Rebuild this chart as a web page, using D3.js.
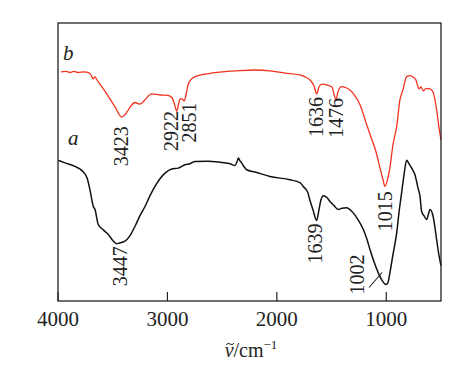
<!DOCTYPE html>
<html>
<head>
<meta charset="utf-8">
<script src="https://cdn.jsdelivr.net/npm/d3@7"></script>
<style>
  body { margin: 0; background: #fff; }
  svg text { font-family: "Liberation Serif", "Times New Roman", serif; fill: #222; }
</style>
</head>
<body>
<div id="chart"></div>
<script>
// wavenumbers (cm-1) and transmittance (arb. %)
var wnB = [3973, 3927, 3890, 3854, 3817, 3762, 3726, 3698, 3680, 3662, 3644, 3598, 3543, 3479, 3418, 3369, 3333, 3296, 3251, 3205, 3144, 3068, 2995, 2958, 2931, 2915, 2899, 2885, 2867, 2846, 2830, 2809, 2748, 2611, 2501, 2337, 2200, 2063, 1926, 1789, 1743, 1697, 1661, 1636, 1615, 1588, 1533, 1496, 1474, 1460, 1442, 1408, 1368, 1332, 1286, 1240, 1179, 1131, 1094, 1058, 1030, 1012, 985, 967, 939, 905, 875, 848, 814, 784, 756, 729, 701, 683, 662, 637, 601, 573, 540, 518, 500];
var tB = [82.4, 82.6, 82.2, 82.6, 82.2, 82.4, 82.2, 81.3, 79.9, 80.6, 79.5, 77.0, 73.8, 69.8, 66.2, 68.0, 70.2, 71.4, 70.8, 72.4, 74.5, 74.1, 74.0, 73.1, 70.2, 68.2, 70.6, 72.7, 72.7, 72.0, 74.1, 78.1, 80.7, 81.9, 82.4, 82.9, 83.1, 82.8, 82.0, 81.3, 80.6, 79.5, 77.4, 74.5, 77.0, 78.0, 77.6, 77.0, 73.8, 72.4, 75.2, 77.1, 76.7, 75.9, 73.8, 70.6, 63.4, 58.0, 53.7, 47.9, 43.6, 41.2, 44.3, 47.9, 56.2, 62.8, 72.4, 75.9, 80.7, 81.1, 80.6, 79.5, 76.3, 77.0, 75.6, 76.5, 76.3, 75.2, 68.8, 62.3, 58.0];

var wnA = [3997, 3936, 3845, 3781, 3735, 3708, 3677, 3662, 3632, 3589, 3540, 3497, 3464, 3443, 3388, 3342, 3296, 3251, 3205, 3159, 3114, 3068, 3022, 2961, 2901, 2839, 2794, 2748, 2627, 2504, 2428, 2383, 2364, 2352, 2337, 2321, 2300, 2276, 2200, 2063, 1880, 1789, 1759, 1717, 1699, 1671, 1636, 1615, 1597, 1576, 1542, 1515, 1478, 1439, 1405, 1362, 1332, 1302, 1259, 1210, 1176, 1149, 1113, 1073, 1039, 1003, 985, 967, 939, 905, 884, 860, 838, 814, 793, 768, 738, 711, 692, 677, 656, 631, 614, 601, 576, 555, 540, 518, 500];
var tA = [50.6, 49.7, 48.4, 46.9, 44.3, 40.0, 34.0, 32.9, 27.5, 25.7, 23.9, 21.7, 20.6, 20.8, 21.5, 23.5, 26.9, 30.7, 34.0, 37.9, 41.2, 44.0, 46.0, 47.5, 47.8, 49.0, 49.4, 50.2, 50.3, 49.8, 49.4, 48.7, 50.1, 51.4, 50.4, 49.6, 48.3, 47.2, 46.4, 44.8, 43.6, 42.6, 41.2, 39.0, 36.4, 32.9, 29.0, 32.9, 36.4, 37.9, 37.2, 35.8, 34.3, 32.9, 33.4, 33.5, 32.9, 31.7, 29.3, 25.7, 22.1, 18.5, 14.2, 10.1, 7.4, 5.9, 6.6, 10.1, 16.7, 24.5, 31.8, 38.9, 45.4, 50.6, 49.4, 47.8, 45.4, 40.8, 37.6, 32.2, 30.7, 29.3, 31.4, 32.9, 31.1, 26.4, 22.1, 16.3, 12.7];

var xTicks = [4000, 3000, 2000, 1000];

var peaksB = ["3423", "2922", "2851", "1636", "1476", "1015"];
var peaksA = ["3447", "1639", "1002"];

var margin = {top: 23, right: 24, bottom: 73, left: 58};
var w = 465, h = 374;
var width = w - margin.left - margin.right;
var height = h - margin.top - margin.bottom;

var svg = d3.select("#chart").append("svg")
    .attr("width", w)
    .attr("height", h);

var g = svg.append("g")
    .attr("transform", "translate(" + margin.left + "," + margin.top + ")");

var x = d3.scaleLinear().domain([4000, 500]).range([0, width]);
var y = d3.scaleLinear().domain([0, 100]).range([height, 0]);

var line = d3.line()
    .x(function(d) { return x(d[0]); })
    .y(function(d) { return y(d[1]); })
    .curve(d3.curveMonotoneX);

var dataA = wnA.map(function(v, i) { return [v, tA[i]]; });
var dataB = wnB.map(function(v, i) { return [v, tB[i]]; });

g.append("path").datum(dataB)
    .attr("fill", "none")
    .attr("stroke", "#f2321e")
    .attr("stroke-width", 1.3)
    .attr("d", line);

g.append("path").datum(dataA)
    .attr("fill", "none")
    .attr("stroke", "#111")
    .attr("stroke-width", 1.5)
    .attr("d", line);

// frame + inward ticks on bottom
g.append("rect")
    .attr("width", width).attr("height", height)
    .attr("fill", "none").attr("stroke", "#222").attr("stroke-width", 1.3);

g.selectAll(".tick")
    .data(xTicks)
    .enter().append("line")
    .attr("x1", function(d) { return x(d); })
    .attr("x2", function(d) { return x(d); })
    .attr("y1", height)
    .attr("y2", height - 9)
    .attr("stroke", "#222")
    .attr("stroke-width", 1.2);

g.selectAll(".tick-label")
    .data(xTicks)
    .enter().append("text")
    .attr("x", function(d) { return x(d); })
    .attr("y", height + 25)
    .attr("text-anchor", "middle")
    .style("font-size", "21px")
    .text(function(d) { return d; });

// axis title: nu with a tilde drawn on top
var title = svg.append("text")
    .attr("x", 251)
    .attr("y", 357)
    .attr("text-anchor", "middle")
    .style("font-size", "20px");
title.append("tspan").style("font-style", "italic").text("\u03BD");
title.append("tspan").text("/cm");
title.append("tspan").attr("dy", -8).style("font-size", "13px").text("\u22121");
var nu = title.node().getExtentOfChar(0);
var tx = nu.x + nu.width / 2 + 1, ty = 344;
svg.append("path")
    .attr("d", "M" + (tx - 4) + "," + (ty + 1) + " q2,-3 4,-1 t4,-1")
    .attr("fill", "none")
    .attr("stroke", "#222")
    .attr("stroke-width", 1);

// curve labels
g.append("text").attr("x", 5).attr("y", 37)
    .style("font-style", "italic").style("font-size", "21px").text("b");
g.append("text").attr("x", 10).attr("y", 122)
    .style("font-style", "italic").style("font-size", "21px").text("a");

// peak labels: shift (dx) and gap below the curve (dy), in pixels
var labelLayout = {
    "3423": [0, 10], "2922": [-5, 2], "2851": [5, 2], "1636": [-1, 3],
    "1476": [2, 3], "1015": [0, 6], "3447": [1, 3], "1639": [-1, 4], "1002": [-29, -30]
};

function valueAt(wns, ts, v) {
    var i = d3.bisector(function(d) { return -d; }).left(wns, -v);
    i = Math.max(1, Math.min(wns.length - 1, i));
    var t = (v - wns[i - 1]) / (wns[i] - wns[i - 1]);
    return ts[i - 1] + t * (ts[i] - ts[i - 1]);
}

function addPeaks(list, wns, ts) {
    list.forEach(function(p) {
        var v = +p;
        var px = x(v) + labelLayout[p][0];
        var py = y(valueAt(wns, ts, v)) + labelLayout[p][1];
        g.append("text")
            .attr("transform", "translate(" + px + "," + py + ") rotate(-90)")
            .attr("text-anchor", "end")
            .attr("dy", "0.35em")
            .style("font-size", "20px")
            .text(p);
    });
}
addPeaks(peaksB, wnB, tB);
addPeaks(peaksA, wnA, tA);

// leader for 1002
var lx = x(1002), ly = y(valueAt(wnA, tA, 1002));
g.append("line")
    .attr("x1", lx - 17).attr("y1", ly + 3)
    .attr("x2", lx - 4).attr("y2", ly - 12)
    .attr("stroke", "#222").attr("stroke-width", 1.1);
</script>
</body>
</html>
